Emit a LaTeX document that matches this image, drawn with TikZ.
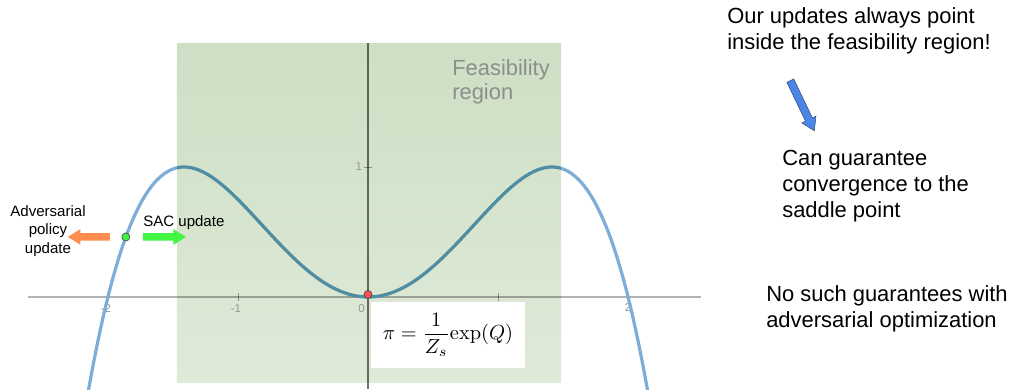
\documentclass[tikz,border=0pt]{standalone}
\usepackage[no-math]{fontspec}
\usepackage{graphicx}
\usepackage{tikz}
\usetikzlibrary{shapes.arrows,positioning,calc}
\newfontfamily\slidefont{Liberation Sans}

\definecolor{feastop}{RGB}{205,223,196}
\definecolor{feasbot}{RGB}{223,234,217}
\definecolor{curveblue}{RGB}{126,174,216}
\definecolor{curveteal}{RGB}{80,140,162}
\definecolor{advorange}{RGB}{255,142,78}
\definecolor{sacgreen}{RGB}{66,245,66}
\definecolor{noteblue}{RGB}{74,134,232}
\definecolor{noteedge}{RGB}{60,76,110}
\definecolor{tickgray}{RGB}{150,150,150}
\definecolor{feasgray}{RGB}{140,142,138}

\tikzset{
  slidetext/.style={font=\slidefont\fontsize{15.6}{18.5}\selectfont, align=left, inner sep=0pt, anchor=north west},
  smalltext/.style={font=\slidefont\fontsize{10.7}{13.2}\selectfont, inner sep=0pt},
  ticklabel/.style={font=\slidefont\fontsize{8.2}{9}\selectfont, text=tickgray, inner sep=0pt},
  blockarrow/.style={single arrow, inner xsep=0pt, inner ysep=2.5pt, minimum width=10.7pt, single arrow head extend=2.85pt, single arrow tip angle=64},
  dot/.style={circle, draw=black!70, line width=0.5pt, inner sep=0pt, minimum size=5.7pt},
}

\begin{document}
\begin{tikzpicture}[x=0.025cm, y=-0.025cm]
  \useasboundingbox (0,0) rectangle (1012,389);

  % the plot, one unit = 130px
  \begin{scope}[shift={(368,297)}, x=3.25cm, y=3.25cm]
    \clip (-2.9,-0.708) rectangle (2.6,2.3);
    \shade[top color=feastop, bottom color=feasbot] (-1.47,-0.66) rectangle (1.485,1.946);
    \draw[black, opacity=0.3, line width=1pt] (-2.615,0) -- (2.562,0);
    \draw[black, opacity=0.55, line width=1pt] (0,1.954) -- (0,-0.708);
    \foreach \t in {-2,-1,1,2}
      \draw[black, opacity=0.35, line width=0.6pt] (\t,-0.03) -- (\t,0.03);
    \draw[black, opacity=0.35, line width=0.6pt] (-0.03,1) -- (0.03,1);
    \foreach \t in {-2,-1}
      \node[ticklabel] at (\t-0.015,-0.085) {\t};
    \node[ticklabel] at (2,-0.08) {2};
    \node[ticklabel] at (-0.05,-0.09) {0};
    \node[ticklabel] at (-0.07,1) {1};

    \draw[curveblue, line width=2.3pt, domain=-2.16:-1.47, samples=40] plot (\x, {\x*\x-\x*\x*\x*\x/4});
    \draw[curveblue, line width=2.3pt, domain=1.485:2.16, samples=40] plot (\x, {\x*\x-\x*\x*\x*\x/4});
    \draw[curveteal, line width=2.3pt, domain=-1.47:1.485, samples=100] plot (\x, {\x*\x-\x*\x*\x*\x/4});

    \node[dot, fill=sacgreen] (pol) at (-1.862,0.462) {};
    \node[dot, fill=red!70] (opt) at (0,0.02) {};
  \end{scope}

  \node[font=\slidefont\fontsize{15.6}{17}\selectfont, text=feasgray, align=left, inner sep=0pt, anchor=north west] (feas) at (452,59) {Feasibility\\region};

  \node[fill=white, minimum width=3.85cm, minimum height=1.65cm, inner sep=0pt] (eq) at (448,335)
    {\scalebox{1.45}{$\displaystyle\pi=\frac{1}{Z_s}\mathrm{exp}(Q)$}};

  % updates from the current policy
  \path ($(pol)+(-13,0)$) coordinate (advtail) -- ($(pol)+(-55,0)$) coordinate (advtip)
    node[midway, sloped, allow upside down, blockarrow, fill=advorange, minimum height=29.9pt] {};
  \path ($(pol)+(14,0)$) coordinate (sactail) -- ($(pol)+(57,0)$) coordinate (sactip)
    node[midway, sloped, blockarrow, fill=sacgreen, minimum height=30.6pt] {};
  \node[smalltext, align=center] (advlab) at (48,231) {Adversarial\\policy\\update};
  \node[smalltext, anchor=base west] (saclab) at (143,226) {SAC update};

  % notes on the right
  \node[slidetext] (claim) at (727,7) {Our updates always point\\inside the feasibility region!};
  \node[slidetext] (conv) at (782,150) {Can guarantee\\convergence to the\\saddle point};
  \node[slidetext] (noguar) at (766,285) {No such guarantees with\\adversarial optimization};

  \coordinate (bluetail) at (789,78);
  \coordinate (bluetip) at (813,128);
  \path (bluetail) -- (bluetip)
    node[midway, sloped, allow upside down, blockarrow, fill=noteblue, draw=noteedge, line width=0.4pt, minimum height=39.5pt] {};
\end{tikzpicture}
\end{document}
